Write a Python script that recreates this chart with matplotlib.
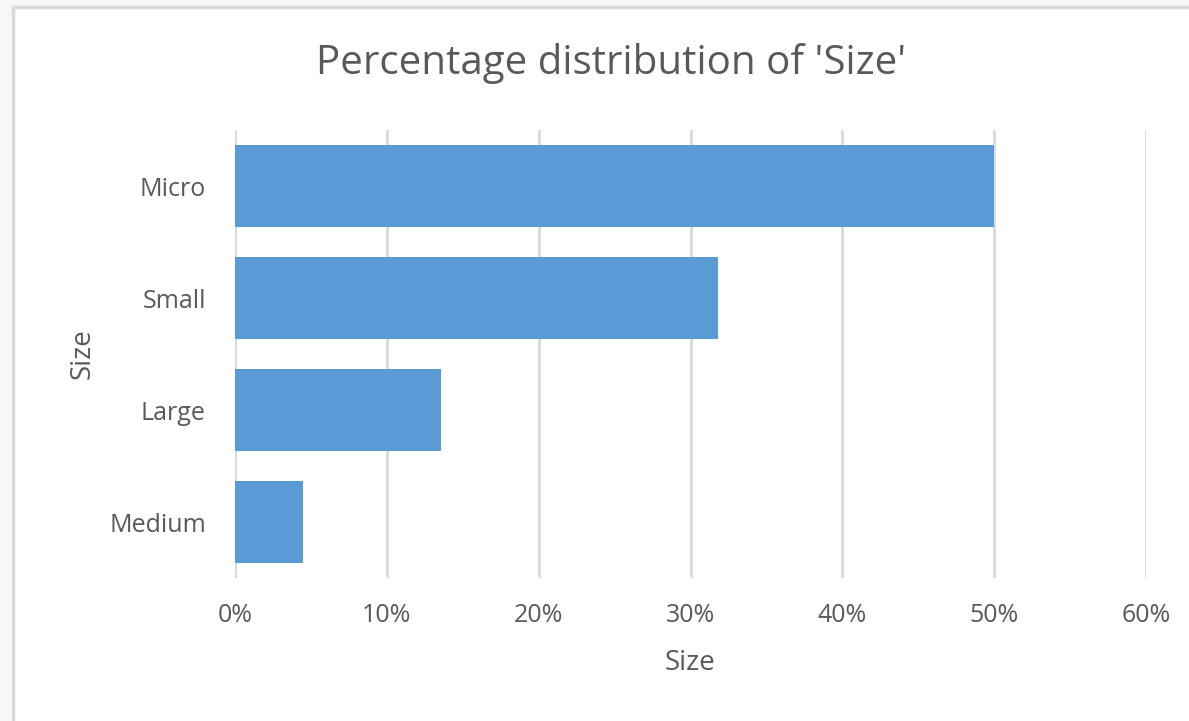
import matplotlib.pyplot as plt
from matplotlib.patches import Rectangle
from matplotlib.ticker import FuncFormatter

# Datos del gráfico
categorias = ['Micro', 'Small', 'Large', 'Medium']
porcentajes = [50.0, 31.8, 13.6, 4.5]
ticks_x = [0, 10, 20, 30, 40, 50, 60]

color_barra = '#5b9bd5'
color_texto = '#595959'
color_rejilla = '#d9d9d9'

plt.rcParams['font.family'] = ['Open Sans', 'DejaVu Sans']

fig = plt.figure(figsize=(11.89, 7.21), dpi=100)
fig.patch.set_facecolor('#f6f7f7')

# marco blanco del área del gráfico
fig.patches.append(Rectangle((13 / 1189, -0.05), 1.1, (721 - 7.5) / 721 + 0.05,
                             transform=fig.transFigure, facecolor='white',
                             edgecolor=color_rejilla, linewidth=2.5, zorder=-10))

ax = fig.add_axes([235 / 1189, (721 - 578) / 721, 911 / 1189, 448 / 721])
ax.set_facecolor('none')

pos = list(range(len(categorias)))
ax.barh(pos, porcentajes, height=0.73, color=color_barra, zorder=3)

ax.set_ylim(len(categorias) - 0.5, -0.5)
ax.set_xlim(0, 60)
ax.set_xticks(ticks_x)
ax.xaxis.set_major_formatter(FuncFormatter(lambda v, p: f'{v:.0f}%'))
ax.set_yticks(pos)
ax.set_yticklabels(categorias)

ax.grid(axis='x', color=color_rejilla, linewidth=2, zorder=0)
ax.tick_params(length=0, labelsize=18, labelcolor=color_texto)
ax.tick_params(axis='x', pad=18)
ax.tick_params(axis='y', pad=21)
for s in ax.spines.values():
    s.set_visible(False)

ax.set_xlabel('Size', fontsize=20, color=color_texto, labelpad=15)
ax.set_ylabel('Size', fontsize=20, color=color_texto, labelpad=9)
fig.text(611 / 1189, 1 - 64 / 721, "Percentage distribution of 'Size'",
         fontsize=29, color=color_texto, ha='center', va='center')

fig.savefig('out.png', dpi=100, facecolor=fig.get_facecolor())
